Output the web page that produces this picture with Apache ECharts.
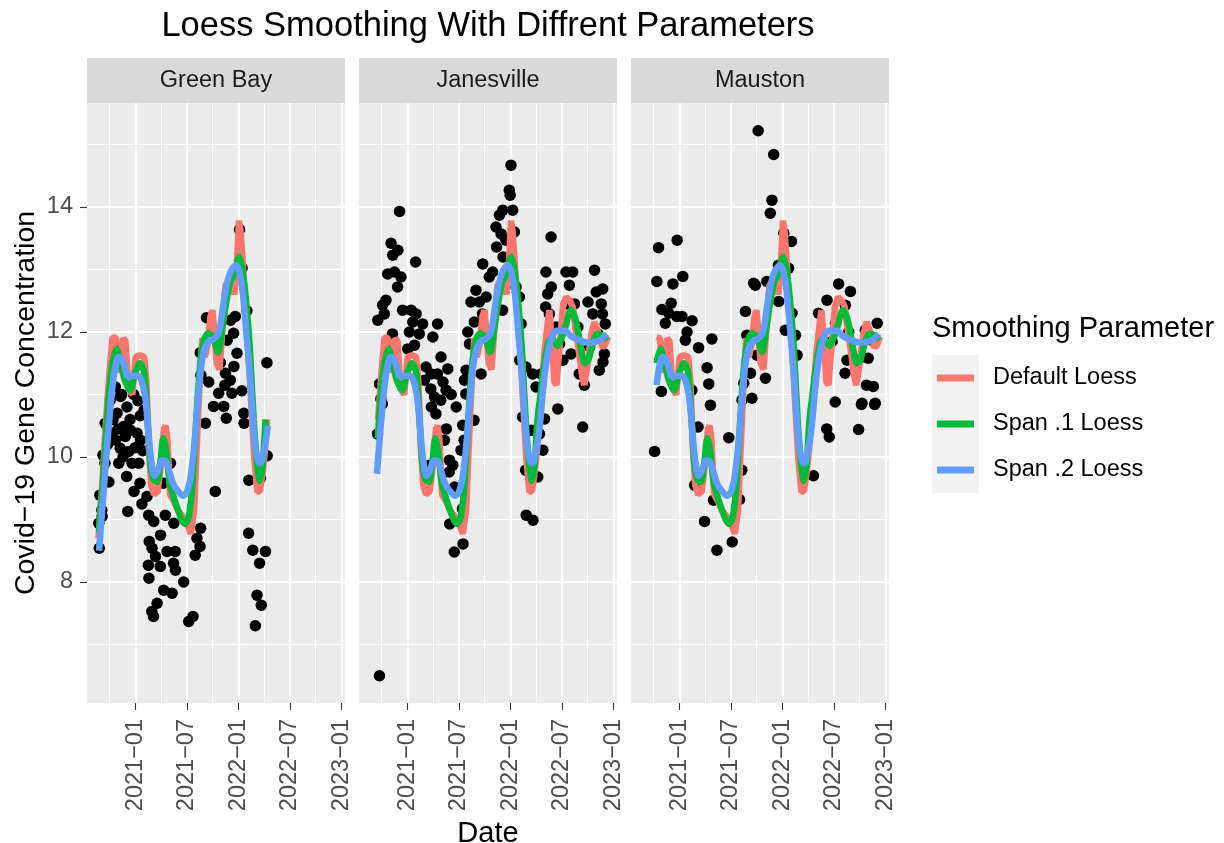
<!DOCTYPE html>
<html>
<head>
<meta charset="utf-8">
<title>Loess Smoothing With Diffrent Parameters</title>
<script src="https://cdn.jsdelivr.net/npm/echarts@6.0.0/dist/echarts.min.js"></script>
<style>
  html, body { margin: 0; padding: 0; background: #fff; }
  #chart { width: 1224px; height: 843px; }
</style>
</head>
<body>
<div id="chart"></div>
<script>
// facets
const sites = ['Green Bay', 'Janesville', 'Mauston'];

// observed gene concentration per site: [date, value]
const greenBayPoints = [
  ['2022-01-04', 13.64], ['2022-01-13', 13.02], ['2021-09-09', 12.23], ['2022-01-30', 12.34], ['2022-04-11', 11.51],
  ['2021-08-18', 11.67], ['2021-08-20', 11.31], ['2021-09-17', 11.2], ['2021-10-28', 11.51], ['2021-11-15', 11.34],
  ['2021-12-02', 11.23], ['2021-12-26', 11.66], ['2021-12-14', 11.98], ['2021-12-03', 12.19], ['2021-11-21', 11.87],
  ['2021-12-20', 12.25], ['2021-10-22', 11.02], ['2021-10-04', 10.81], ['2021-11-09', 10.81], ['2021-11-18', 10.62],
  ['2022-01-12', 11.06], ['2022-01-19', 10.7], ['2022-01-20', 10.54], ['2021-01-17', 10.66], ['2020-10-03', 10.91],
  ['2020-09-15', 10.54], ['2021-09-05', 10.54], ['2021-12-08', 11.02], ['2021-11-13', 11.15], ['2021-12-15', 11.45],
  ['2020-10-21', 11.12], ['2020-11-08', 10.97], ['2020-10-27', 10.7], ['2020-12-01', 10.8], ['2020-12-13', 10.43],
  ['2020-11-19', 10.49], ['2021-01-06', 10.38], ['2020-10-09', 10.38], ['2020-12-25', 11.0], ['2020-08-25', 8.54],
  ['2020-08-23', 8.94], ['2020-09-04', 9.05], ['2020-08-27', 9.39], ['2020-09-07', 10.03], ['2020-09-14', 9.9],
  ['2020-10-22', 10.27], ['2020-11-07', 10.14], ['2020-11-02', 9.9], ['2020-12-07', 10.09], ['2020-11-30', 9.69],
  ['2020-12-19', 9.9], ['2020-12-26', 9.45], ['2021-01-12', 9.9], ['2021-01-16', 9.58], ['2020-12-04', 9.13],
  ['2021-02-10', 9.37], ['2021-02-16', 9.07], ['2021-03-06', 8.97], ['2021-04-16', 9.07], ['2021-05-16', 8.94],
  ['2021-03-30', 8.75], ['2021-02-18', 8.65], ['2021-02-28', 8.54], ['2021-04-22', 8.49], ['2021-05-21', 8.49],
  ['2021-03-12', 8.41], ['2021-02-15', 8.27], ['2021-03-29', 8.25], ['2021-05-15', 8.3], ['2021-05-22', 8.19],
  ['2021-02-17', 8.06], ['2021-06-20', 8.0], ['2021-04-10', 7.87], ['2021-05-10', 7.82], ['2021-03-18', 7.66],
  ['2021-02-27', 7.53], ['2021-03-05', 7.45], ['2021-07-08', 7.37], ['2021-07-23', 7.45], ['2021-08-19', 8.86],
  ['2021-08-06', 8.7], ['2021-08-17', 8.57], ['2021-07-31', 8.43], ['2021-10-10', 9.45], ['2021-04-09', 9.58],
  ['2021-05-04', 9.9], ['2022-02-05', 8.78], ['2022-02-20', 8.51], ['2022-04-06', 8.49], ['2022-03-16', 8.3],
  ['2022-03-07', 7.79], ['2022-03-22', 7.63], ['2022-03-01', 7.3], ['2022-02-06', 9.63], ['2022-03-19', 9.66],
  ['2022-04-12', 10.02], ['2021-01-18', 10.27], ['2020-11-25', 10.33], ['2020-09-03', 9.15], ['2020-09-23', 10.2],
  ['2020-10-13', 10.6], ['2020-10-31', 10.45], ['2020-11-17', 10.0], ['2020-12-12', 10.6], ['2020-12-30', 10.15],
  ['2021-01-26', 10.1], ['2020-09-28', 9.6], ['2021-01-09', 10.9], ['2020-11-12', 11.0], ['2021-01-31', 10.75],
  ['2021-01-23', 9.25]
];

const janesvillePoints = [
  ['2022-01-02', 14.67], ['2021-12-27', 14.27], ['2021-12-30', 14.19], ['2022-01-08', 13.95], ['2021-12-04', 13.95],
  ['2021-11-22', 13.87], ['2021-11-10', 13.68], ['2021-11-28', 13.57], ['2022-01-14', 13.6], ['2021-11-12', 13.36],
  ['2021-12-05', 13.2], ['2021-12-15', 13.47], ['2021-09-24', 13.09], ['2021-10-29', 12.96], ['2021-08-31', 12.67],
  ['2021-08-13', 12.48], ['2021-09-12', 12.48], ['2021-10-06', 12.56], ['2021-12-03', 12.35], ['2021-08-25', 12.16],
  ['2021-09-23', 12.29], ['2022-01-20', 12.72], ['2022-02-01', 12.56], ['2022-02-07', 12.13], ['2020-12-03', 13.93],
  ['2020-11-03', 13.42], ['2020-11-27', 13.31], ['2020-11-09', 13.23], ['2021-01-29', 13.12], ['2020-10-22', 12.93],
  ['2020-11-15', 12.96], ['2020-12-08', 12.88], ['2020-11-26', 12.72], ['2020-10-16', 12.51], ['2020-10-04', 12.43],
  ['2020-10-10', 12.29], ['2020-09-17', 12.19], ['2020-12-14', 12.35], ['2021-01-13', 12.35], ['2021-01-31', 12.29],
  ['2021-02-23', 12.13], ['2021-01-19', 12.16], ['2021-04-17', 12.13], ['2021-01-07', 12.0], ['2021-02-11', 11.97],
  ['2021-03-31', 11.92], ['2020-11-08', 11.97], ['2021-01-01', 11.73], ['2021-01-25', 11.79], ['2021-03-07', 11.44],
  ['2021-03-25', 11.33], ['2021-04-29', 11.6], ['2021-05-23', 11.41], ['2021-04-16', 11.33], ['2020-09-23', 11.17],
  ['2021-03-01', 11.23], ['2021-03-24', 11.09], ['2021-05-17', 11.07], ['2021-04-06', 10.96], ['2021-04-28', 10.91],
  ['2020-09-28', 10.93], ['2020-10-03', 10.85], ['2021-03-26', 10.8], ['2021-04-11', 10.69], ['2021-08-02', 12.0],
  ['2021-07-27', 11.39], ['2021-08-08', 11.81], ['2021-07-21', 11.23], ['2021-07-26', 11.01], ['2021-09-18', 11.33],
  ['2021-12-10', 12.72], ['2021-10-17', 12.88], ['2022-02-02', 11.55], ['2022-02-24', 11.44], ['2022-03-20', 11.33],
  ['2022-04-01', 11.12], ['2022-04-19', 11.33], ['2022-05-06', 12.96], ['2022-05-24', 13.52], ['2022-05-12', 12.61],
  ['2022-05-25', 12.72], ['2022-05-05', 12.4], ['2022-05-18', 12.29], ['2022-06-11', 12.08], ['2022-06-23', 11.81],
  ['2022-07-16', 12.96], ['2022-08-09', 12.96], ['2022-07-28', 12.75], ['2022-07-17', 12.45], ['2022-08-15', 12.45],
  ['2022-08-27', 12.08], ['2022-08-03', 11.65], ['2022-07-05', 11.55], ['2022-09-01', 11.33], ['2022-09-19', 11.15],
  ['2022-10-25', 12.99], ['2022-10-02', 12.48], ['2022-10-31', 12.64], ['2022-11-23', 12.69], ['2022-10-19', 12.29],
  ['2022-11-18', 12.45], ['2022-12-02', 12.13], ['2022-11-22', 12.29], ['2022-11-06', 11.97], ['2022-11-29', 11.65],
  ['2022-11-24', 11.52], ['2022-11-11', 11.39], ['2022-10-08', 11.76], ['2022-06-17', 10.77], ['2020-09-23', 6.5],
  ['2020-09-16', 10.37], ['2021-05-18', 10.45], ['2021-05-11', 10.27], ['2021-03-19', 9.87], ['2021-05-29', 9.95],
  ['2021-06-10', 9.87], ['2021-05-28', 9.76], ['2021-06-16', 9.52], ['2021-07-15', 10.51], ['2021-07-20', 10.27],
  ['2021-07-09', 10.11], ['2021-08-24', 10.59], ['2021-07-14', 9.17], ['2021-05-30', 8.93], ['2021-07-16', 8.61],
  ['2021-06-15', 8.48], ['2022-02-25', 9.07], ['2022-03-21', 8.99], ['2022-04-07', 9.68], ['2022-04-25', 10.11],
  ['2022-04-13', 10.37], ['2022-05-01', 10.61], ['2022-09-13', 10.48], ['2022-02-12', 10.64], ['2022-03-15', 10.43],
  ['2022-02-23', 9.79], ['2021-06-04', 11.0], ['2021-06-22', 10.8], ['2021-05-06', 11.2]
];

const maustonPoints = [
  ['2021-10-06', 15.22], ['2021-11-30', 14.84], ['2021-11-24', 14.11], ['2021-11-18', 13.9], ['2022-01-05', 13.58],
  ['2022-02-01', 13.45], ['2020-12-23', 13.47], ['2020-10-18', 13.35], ['2020-10-12', 12.81], ['2020-12-08', 12.77],
  ['2021-01-12', 12.89], ['2020-12-02', 12.46], ['2020-10-30', 12.36], ['2020-11-23', 12.3], ['2020-12-22', 12.25],
  ['2020-11-11', 12.14], ['2021-01-09', 12.25], ['2021-02-14', 12.18], ['2021-01-27', 12.0], ['2021-01-21', 11.87],
  ['2021-03-09', 11.75], ['2021-04-25', 11.89], ['2021-04-08', 11.43], ['2021-04-14', 11.17], ['2021-04-20', 10.83],
  ['2021-02-13', 11.07], ['2020-10-28', 11.05], ['2021-08-22', 12.33], ['2021-09-26', 12.75], ['2021-09-20', 12.78],
  ['2021-11-06', 12.81], ['2021-12-18', 12.49], ['2021-12-17', 13.07], ['2022-01-22', 13.02], ['2022-02-03', 12.3],
  ['2022-01-10', 12.03], ['2022-02-15', 11.95], ['2022-02-21', 11.63], ['2021-11-01', 11.26], ['2021-09-09', 11.34],
  ['2021-10-02', 11.63], ['2021-08-27', 11.95], ['2021-08-16', 11.18], ['2021-09-14', 10.94], ['2021-08-10', 10.91],
  ['2022-05-08', 12.3], ['2022-07-18', 12.77], ['2022-08-29', 12.65], ['2022-08-11', 12.43], ['2022-06-07', 12.51],
  ['2022-07-07', 12.14], ['2022-06-25', 11.85], ['2022-08-23', 12.0], ['2022-08-17', 11.55], ['2022-08-10', 11.34],
  ['2022-07-06', 10.88], ['2022-10-21', 12.03], ['2022-11-13', 11.87], ['2022-12-02', 12.14], ['2022-10-31', 11.58],
  ['2022-10-25', 11.15], ['2022-11-18', 11.13], ['2022-10-09', 10.86], ['2022-11-25', 10.86], ['2022-10-10', 11.6],
  ['2020-10-04', 10.09], ['2021-03-07', 10.48], ['2021-02-23', 9.55], ['2021-05-01', 9.31], ['2021-03-30', 8.97],
  ['2021-05-13', 8.51], ['2021-06-24', 10.31], ['2021-08-09', 9.79], ['2021-08-01', 9.32], ['2021-07-06', 8.64],
  ['2022-03-22', 9.73], ['2022-04-20', 9.7], ['2022-06-06', 10.45], ['2022-06-15', 10.32], ['2022-09-27', 10.44],
  ['2022-10-07', 10.84], ['2022-11-23', 10.84]
];

// fitted curves (same fit shown in every panel, over that site's date range)
const defaultLoess = [
  ['2020-08-22', 8.7], ['2020-09-05', 9.6], ['2020-09-18', 10.6], ['2020-10-01', 11.4], ['2020-10-11', 11.92],
  ['2020-10-23', 11.9], ['2020-11-02', 11.35], ['2020-11-10', 11.6], ['2020-11-18', 11.9], ['2020-11-26', 11.85],
  ['2020-12-06', 11.1], ['2020-12-20', 11.0], ['2021-01-01', 11.6], ['2021-01-16', 11.63], ['2021-01-31', 11.6],
  ['2021-02-08', 11.2], ['2021-02-16', 10.2], ['2021-02-25', 9.55], ['2021-03-07', 9.4], ['2021-03-20', 9.45],
  ['2021-04-01', 9.9], ['2021-04-11', 10.45], ['2021-04-17', 10.5], ['2021-04-23', 10.3], ['2021-05-03', 9.4],
  ['2021-05-16', 9.3], ['2021-05-31', 9.15], ['2021-06-15', 9.05], ['2021-07-03', 8.93], ['2021-07-15', 8.77],
  ['2021-07-27', 9.15], ['2021-08-02', 9.8], ['2021-08-08', 10.45], ['2021-08-17', 11.3], ['2021-08-25', 11.9],
  ['2021-09-03', 11.6], ['2021-09-13', 11.8], ['2021-09-23', 12.25], ['2021-09-30', 12.35], ['2021-10-08', 11.9],
  ['2021-10-15', 11.5], ['2021-10-25', 11.4], ['2021-11-05', 12.1], ['2021-11-15', 12.75], ['2021-12-02', 12.85],
  ['2021-12-17', 12.6], ['2021-12-27', 13.2], ['2022-01-02', 13.78], ['2022-01-08', 13.6], ['2022-01-14', 13.2],
  ['2022-01-21', 12.7], ['2022-01-28', 12.2], ['2022-02-05', 11.6], ['2022-02-15', 10.8], ['2022-02-25', 10.0],
  ['2022-03-08', 9.45], ['2022-03-17', 9.45], ['2022-03-27', 9.75], ['2022-04-04', 10.1], ['2022-04-12', 10.6],
  ['2022-04-21', 11.1], ['2022-05-01', 11.7], ['2022-05-11', 12.1], ['2022-05-18', 12.35], ['2022-05-26', 11.9],
  ['2022-06-05', 11.2], ['2022-06-12', 11.15], ['2022-06-22', 11.7], ['2022-07-05', 12.4], ['2022-07-16', 12.56],
  ['2022-07-30', 12.5], ['2022-08-09', 12.4], ['2022-08-21', 12.0], ['2022-09-01', 11.65], ['2022-09-11', 11.3],
  ['2022-09-19', 11.15], ['2022-10-01', 11.5], ['2022-10-13', 11.95], ['2022-10-25', 12.16], ['2022-11-07', 12.0],
  ['2022-11-22', 11.75], ['2022-12-02', 11.8], ['2022-12-11', 11.92]
];

const span1Loess = [
  ['2020-08-24', 8.8], ['2020-09-05', 9.5], ['2020-09-17', 10.3], ['2020-09-28', 11.0], ['2020-10-11', 11.5],
  ['2020-10-25', 11.73], ['2020-11-07', 11.55], ['2020-11-22', 11.25], ['2020-12-13', 11.07], ['2020-12-27', 11.3],
  ['2021-01-16', 11.5], ['2021-01-31', 11.35], ['2021-02-12', 10.6], ['2021-02-22', 9.9], ['2021-03-04', 9.65],
  ['2021-03-17', 9.6], ['2021-03-30', 9.95], ['2021-04-09', 10.3], ['2021-04-19', 10.1], ['2021-05-01', 9.6],
  ['2021-05-16', 9.35], ['2021-05-31', 9.15], ['2021-06-13', 9.0], ['2021-06-25', 8.93], ['2021-07-08', 9.05],
  ['2021-07-20', 9.5], ['2021-08-01', 10.4], ['2021-08-14', 11.3], ['2021-08-29', 11.85], ['2021-09-16', 11.98],
  ['2021-10-03', 11.9], ['2021-10-20', 11.68], ['2021-11-02', 12.0], ['2021-11-15', 12.4], ['2021-12-02', 12.8],
  ['2021-12-19', 12.95], ['2022-01-02', 13.2], ['2022-01-14', 13.0], ['2022-01-28', 12.45], ['2022-02-10', 11.7],
  ['2022-02-23', 10.6], ['2022-03-07', 9.9], ['2022-03-17', 9.62], ['2022-03-27', 9.9], ['2022-04-06', 10.6],
  ['2022-04-18', 11.05], ['2022-05-02', 11.55], ['2022-05-16', 11.85], ['2022-05-30', 11.89], ['2022-06-15', 11.78],
  ['2022-06-30', 11.9], ['2022-07-15', 12.1], ['2022-08-02', 12.35], ['2022-08-19', 12.2], ['2022-09-05', 11.8],
  ['2022-09-21', 11.5], ['2022-10-03', 11.55], ['2022-10-18', 11.8], ['2022-11-04', 11.97], ['2022-11-22', 11.95],
  ['2022-12-08', 11.87]
];

const span2Loess = [
  ['2020-08-24', 8.5], ['2020-09-05', 9.2], ['2020-09-14', 9.73], ['2020-09-23', 10.25], ['2020-10-02', 10.73],
  ['2020-10-11', 11.15], ['2020-10-20', 11.42], ['2020-11-02', 11.6], ['2020-11-14', 11.55], ['2020-11-24', 11.42],
  ['2020-12-07', 11.28], ['2020-12-22', 11.3], ['2021-01-06', 11.3], ['2021-01-19', 11.25], ['2021-02-03', 10.98],
  ['2021-02-15', 10.4], ['2021-02-25', 9.95], ['2021-03-10', 9.7], ['2021-03-22', 9.8], ['2021-04-06', 9.95],
  ['2021-04-18', 9.93], ['2021-05-01', 9.75], ['2021-05-16', 9.55], ['2021-06-01', 9.45], ['2021-06-18', 9.38],
  ['2021-07-02', 9.45], ['2021-07-15', 9.7], ['2021-07-28', 10.2], ['2021-08-09', 10.9], ['2021-08-21', 11.45],
  ['2021-09-04', 11.76], ['2021-09-20', 11.86], ['2021-10-08', 11.9], ['2021-10-23', 12.0], ['2021-11-05', 12.35],
  ['2021-11-19', 12.75], ['2021-12-05', 12.98], ['2021-12-22', 13.07], ['2022-01-04', 12.95], ['2022-01-16', 12.6],
  ['2022-01-28', 12.0], ['2022-02-10', 11.3], ['2022-02-22', 10.5], ['2022-03-06', 10.0], ['2022-03-18', 9.9],
  ['2022-04-01', 10.1], ['2022-04-14', 10.5], ['2022-04-26', 11.1], ['2022-05-10', 11.6], ['2022-05-26', 11.9],
  ['2022-06-15', 12.02], ['2022-07-10', 12.02], ['2022-08-04', 11.93], ['2022-09-01', 11.87], ['2022-10-03', 11.83],
  ['2022-11-02', 11.85], ['2022-11-22', 11.9], ['2022-12-08', 11.97]
];

// where each site's curves start and end
const curveStart = ['2020-08-22', '2020-09-14', '2020-10-05'];
const curveEnd = ['2022-04-16', '2022-12-11', '2022-12-11'];

// axis breaks
const xMajor = ['2021-01-01', '2021-07-01', '2022-01-01', '2022-07-01', '2023-01-01'];
const xMinor = ['2020-10-01', '2021-04-01', '2021-10-01', '2022-04-01', '2022-10-01'];
const yMajor = [8, 10, 12, 14];
const yMinor = [7, 9, 11, 13, 15];

const FONT = '"Liberation Sans", Arial, Helvetica, sans-serif';
const xMin = Date.parse('2020-07-12T10:00:00Z');
const xMax = Date.parse('2023-01-12T17:00:00Z');
const yMin = 6.064;
const yMax = 15.664;

const panelLeft = [87, 359, 631];
const panelTop = 103;
const panelW = 258;
const panelH = 600;

const allPoints = [greenBayPoints, janesvillePoints, maustonPoints];
const curves = [
  { name: 'Default Loess', data: defaultLoess, color: '#F8766D', smooth: false },
  { name: 'Span .1 Loess', data: span1Loess, color: '#00BA38', smooth: 0.3 },
  { name: 'Span .2 Loess', data: span2Loess, color: '#619CFF', smooth: 0.4 }
];

const ts = d => Date.parse(d);
const fmtMonth = v => {
  const d = new Date(v);
  return d.getUTCFullYear() + '\u2212' + String(d.getUTCMonth() + 1).padStart(2, '0');
};

const grid = [], xAxis = [], yAxis = [], series = [];
const tickStyle = { color: '#333333', width: 1.1 };

sites.forEach((site, i) => {
  grid.push({
    left: panelLeft[i], top: panelTop, width: panelW, height: panelH,
    show: true, backgroundColor: '#EBEBEB', borderWidth: 0, borderColor: 'transparent',
    containLabel: false, outerBoundsMode: 'none'
  });

  // major + minor x axes
  xAxis.push({
    type: 'value', gridIndex: i, min: xMin, max: xMax, position: 'bottom',
    axisLine: { show: false, onZero: false },
    axisTick: { show: true, customValues: xMajor.map(ts), length: 7, lineStyle: tickStyle },
    axisLabel: {
      show: true, customValues: xMajor.map(ts), rotate: 90, margin: 16,
      formatter: fmtMonth, color: '#4D4D4D', fontSize: 23.5, fontFamily: FONT
    },
    splitLine: { show: true, lineStyle: { color: '#FFFFFF', width: 2.2 } },
    name: i === 1 ? 'Date' : '', nameLocation: 'middle', nameGap: 104,
    nameTextStyle: { color: '#000', fontSize: 29, fontFamily: FONT }
  });
  xAxis.push({
    type: 'value', gridIndex: i, min: xMin, max: xMax, position: 'bottom',
    axisLine: { show: false, onZero: false },
    axisTick: { show: false, customValues: xMinor.map(ts) },
    axisLabel: { show: false },
    splitLine: { show: true, lineStyle: { color: '#FFFFFF', width: 1.1 } }
  });

  // major + minor y axes
  yAxis.push({
    type: 'value', gridIndex: i, min: yMin, max: yMax,
    axisLine: { show: false, onZero: false },
    axisTick: { show: i === 0, customValues: yMajor, length: 7, lineStyle: tickStyle },
    axisLabel: {
      show: i === 0, customValues: yMajor, margin: 14,
      color: '#4D4D4D', fontSize: 23.5, fontFamily: FONT
    },
    splitLine: { show: true, lineStyle: { color: '#FFFFFF', width: 2.2 } },
    name: i === 0 ? 'Covid\u221219 Gene Concentration' : '',
    nameLocation: 'middle', nameGap: 46, nameRotate: 90,
    nameTextStyle: { color: '#000', fontSize: 28.5, fontFamily: FONT }
  });
  yAxis.push({
    type: 'value', gridIndex: i, min: yMin, max: yMax,
    axisLine: { show: false, onZero: false },
    axisTick: { show: false, customValues: yMinor },
    axisLabel: { show: false },
    splitLine: { show: true, lineStyle: { color: '#FFFFFF', width: 1.1 } }
  });

  // points
  series.push({
    type: 'scatter', name: site, xAxisIndex: 2 * i, yAxisIndex: 2 * i,
    data: allPoints[i].map(p => [ts(p[0]), p[1]]),
    symbol: 'circle', symbolSize: 11.5,
    itemStyle: { color: '#000000', opacity: 1 },
    silent: true
  });

  // smoothers
  const lo = ts(curveStart[i]);
  const hi = ts(curveEnd[i]);
  curves.forEach(c => {
    series.push({
      type: 'line', name: c.name, xAxisIndex: 2 * i, yAxisIndex: 2 * i,
      data: c.data.map(p => [ts(p[0]), p[1]]).filter(p => p[0] >= lo && p[0] <= hi),
      showSymbol: false, symbol: 'none', smooth: c.smooth,
      lineStyle: { color: c.color, width: 6.5 },
      itemStyle: { color: c.color },
      silent: true
    });
  });
});

const graphic = [
  {
    type: 'text', x: 488, y: 26,
    style: {
      text: 'Loess Smoothing With Diffrent Parameters', align: 'center', verticalAlign: 'middle',
      fontSize: 34.5, fontFamily: FONT, fill: '#000'
    }
  },
  {
    type: 'text', x: 932, y: 329,
    style: {
      text: 'Smoothing Parameter', align: 'left', verticalAlign: 'middle',
      fontSize: 29, fontFamily: FONT, fill: '#000'
    }
  },
  {
    type: 'rect', shape: { x: 932, y: 355, width: 47, height: 138 },
    style: { fill: '#F2F2F2' }, z: -1
  }
];
sites.forEach((site, i) => {
  graphic.push({
    type: 'rect', shape: { x: panelLeft[i], y: 58, width: panelW, height: 45 },
    style: { fill: '#D9D9D9' }
  });
  graphic.push({
    type: 'text', x: panelLeft[i] + panelW / 2, y: 80.5,
    style: {
      text: site, align: 'center', verticalAlign: 'middle',
      fontSize: 23.5, fontFamily: FONT, fill: '#1A1A1A'
    }
  });
});

const chart = echarts.init(document.getElementById('chart'), null, { renderer: 'canvas' });
chart.setOption({
  animation: false,
  backgroundColor: '#FFFFFF',
  textStyle: { fontFamily: FONT },
  grid: grid,
  xAxis: xAxis,
  yAxis: yAxis,
  legend: {
    data: curves.map(c => ({ name: c.name, itemStyle: { color: c.color, borderWidth: 0 } })),
    orient: 'vertical', left: 937, top: 366,
    itemWidth: 37, itemHeight: 7, itemGap: 22, icon: 'rect',
    selectedMode: false, padding: 0,
    textStyle: { fontSize: 23.5, lineHeight: 24, color: '#000', fontFamily: FONT, padding: [0, 0, 0, 14] }
  },
  graphic: graphic,
  series: series
});
</script>
</body>
</html>
